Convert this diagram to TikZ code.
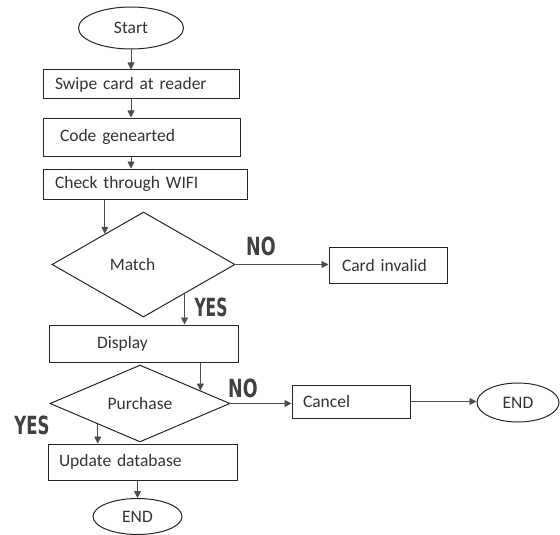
\documentclass[tikz,border=0pt]{standalone}
\usepackage{fontspec}
\setmainfont{Carlito}[WordSpace=0.75]
\newfontfamily\yesnofont{DejaVu Sans}
\usetikzlibrary{positioning,shapes.geometric,arrows.meta,calc}

\begin{document}
\begin{tikzpicture}[x=1pt,y=-1pt,
  box/.style={draw=black!85, line width=1pt, rectangle, inner xsep=12pt, inner ysep=0pt, align=left, font=\fontsize{17.5}{20}\selectfont, text=black!80},
  term/.style={draw=black!85, line width=1pt, ellipse, inner sep=0pt, font=\fontsize{17.5}{20}\selectfont, text=black!80},
  decision/.style={draw=black!85, line width=1pt, diamond, inner sep=0pt, font=\fontsize{17.5}{20}\selectfont, text=black!80},
  arr/.style={draw=black!70, line width=0.8pt, -{Triangle[length=7pt,width=7pt]}},
  yesno/.style={font=\yesnofont\bfseries\fontsize{25}{25}\selectfont, text=black!75, inner sep=0pt}]
\useasboundingbox (0,0) rectangle (560,535);

% main column
\node[term, minimum width=105pt, minimum height=42pt] (start) at (131,28) {Start};
\node[box, text width=172pt, minimum height=29pt] (swipe) at (141,84.5) {Swipe card at reader};
\node[box, inner xsep=17pt, text width=163pt, minimum height=38pt] (code) at (141.5,137) {Code genearted};
\node[box, text width=180pt, minimum height=30pt] (check) at (145,184) {Check through WIFI};
\node[decision, minimum width=183pt, minimum height=105pt] (match) at (143.5,264.5) {Match\hspace*{22pt}};
\node[box, inner xsep=48pt, text width=93pt, minimum height=37pt] (display) at (143.5,343.5) {Display};
\node[decision, minimum width=180pt, minimum height=71pt] (purchase) at (140,403.5) {Purchase};
\node[box, inner xsep=11pt, text width=167pt, minimum height=36pt] (update) at (142.5,462) {Update database};
\node[term, minimum width=89pt, minimum height=36pt] (endb) at (137.5,516.5) {END};

% right side
\node[box, inner xsep=13pt, text width=92pt, minimum height=36pt] (invalid) at (388,265) {Card invalid};
\node[box, inner xsep=11pt, text width=96pt, minimum height=33pt] (cancel) at (351,401.5) {Cancel};
\node[term, minimum width=82pt, minimum height=39pt] (endr) at (518,402.5) {END};

% points on the diamond edges
\coordinate (matchin) at ($(match.north)!0.42!(match.west)$);
\coordinate (matchout) at ($(match.south)!0.446!(match.east)$);
\coordinate (purchin) at ($(purchase.north)!0.667!(purchase.east)$);
\coordinate (purchout) at ($(purchase.south)!0.467!(purchase.west)$);

\draw[arr] (start.south) -- (start.south |- swipe.north);
\draw[arr] (swipe.south -| start.south) -- (code.north -| start.south);
\draw[arr] (code.south -| start.south) -- (check.north -| start.south);
\draw[arr] (check.south -| matchin) -- (matchin);
\draw[arr] (match.east) -- (match.east -| invalid.west);
\draw[arr] (matchout) -- (matchout |- display.north);
\draw[arr] (display.south -| purchin) -- (purchin);
\draw[arr] (purchase.east) -- (purchase.east -| cancel.west);
\draw[arr] (cancel.east) -- (cancel.east -| endr.west);
\draw[arr] (purchout) -- (purchout |- update.north);
\draw[arr] (update.south -| endb.north) -- (endb.north);

% branch labels
\node[yesno] (no1) at (261,246) {\scalebox{0.7}[1]{NO}};
\node[yesno] (yes1) at (211,307) {\scalebox{0.62}[1]{YES}};
\node[yesno] (no2) at (243,388) {\scalebox{0.7}[1]{NO}};
\node[yesno] (yes2) at (32,425) {\scalebox{0.66}[1]{YES}};
\end{tikzpicture}
\end{document}
